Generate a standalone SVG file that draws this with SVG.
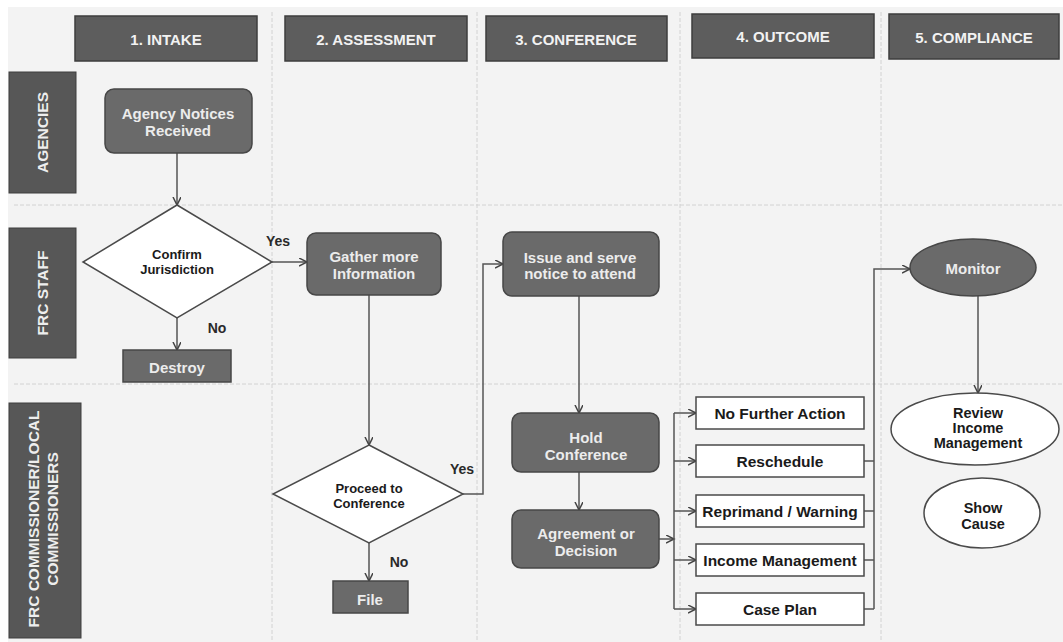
<svg xmlns="http://www.w3.org/2000/svg" width="1063" height="642" viewBox="0 0 1063 642">
<style>
text{font-family:"Liberation Sans",Arial,sans-serif;font-weight:bold;text-anchor:middle;dominant-baseline:central}
.hdr{fill:#5d5d5d;stroke:#3e3e3e;stroke-width:1.5}
.hdrt{fill:#f2f2f2;font-size:15px}
.lane{fill:#575757;stroke:#3e3e3e;stroke-width:1}
.lanet{fill:#eeeeee;font-size:15.5px}
.gnode{fill:#6a6a6a;stroke:#474747;stroke-width:1.5}
.gt{fill:#ececec;font-size:15px}
.wnode{fill:#ffffff;stroke:#4a4a4a;stroke-width:1.5}
.wt{fill:#1a1a1a;font-size:15.5px}
.dt{fill:#1a1a1a;font-size:13px}
.et{fill:#1a1a1a;font-size:14.5px}
.lbl{fill:#2a2a2a;font-size:14px}
.sep{stroke:#d2d2d2;stroke-width:1;stroke-dasharray:4 2;fill:none}
.con{fill:none;stroke:#555555;stroke-width:1.5}
.arr{marker-end:url(#ah)}
</style>
<defs>
<marker id="ah" markerWidth="10" markerHeight="10" refX="8" refY="4" orient="auto" markerUnits="userSpaceOnUse">
<path d="M0,0 L8,4 L0,8" fill="none" stroke="#444444" stroke-width="1.5"/>
</marker>
</defs>
<rect x="0" y="0" width="1063" height="642" fill="#ffffff"/>
<rect x="8" y="7" width="1055" height="635" fill="#f3f3f3"/>
<g id="separators">
<path class="sep" d="M272,12 V642 M477,12 V642 M680,12 V642 M881,12 V642"/>
<path class="sep" d="M14,205 H1063 M14,384 H1063"/>
</g>
<g id="header-intake"><rect class="hdr" x="75" y="16" width="182" height="45"/><text class="hdrt" x="166" y="39">1. INTAKE</text></g>
<g id="header-assessment"><rect class="hdr" x="285" y="16" width="182" height="45"/><text class="hdrt" x="376" y="39">2. ASSESSMENT</text></g>
<g id="header-conference"><rect class="hdr" x="486" y="16" width="181" height="45"/><text class="hdrt" x="576" y="39">3. CONFERENCE</text></g>
<g id="header-outcome"><rect class="hdr" x="692" y="14" width="182" height="44"/><text class="hdrt" x="783" y="36">4. OUTCOME</text></g>
<g id="header-compliance"><rect class="hdr" x="889" y="14" width="170" height="45"/><text class="hdrt" x="974" y="37">5. COMPLIANCE</text></g>
<g id="lane-agencies"><rect class="lane" x="9" y="72" width="67" height="121"/><text class="lanet" transform="translate(42.5,132.5) rotate(-90)">AGENCIES</text></g>
<g id="lane-frc-staff"><rect class="lane" x="9" y="228" width="67" height="130"/><text class="lanet" transform="translate(42.5,293) rotate(-90)">FRC STAFF</text></g>
<g id="lane-commissioners"><rect class="lane" x="9" y="403" width="72" height="235"/><text class="lanet" transform="translate(33,519) rotate(-90)">FRC COMMISSIONER/LOCAL</text><text class="lanet" transform="translate(52,519) rotate(-90)">COMMISSIONERS</text></g>
<g id="connectors">
<path class="con arr" d="M177,153 V205"/>
<path class="con arr" d="M272,262 H307"/>
<path class="con arr" d="M177,318 V350"/>
<path class="con arr" d="M369,295 V445"/>
<path class="con arr" d="M463,494 H483 V264 H503"/>
<path class="con arr" d="M369,543 V581"/>
<path class="con arr" d="M579,296 V413"/>
<path class="con arr" d="M579,472 V510"/>
<path class="con arr" d="M659,539 H674"/>
<path class="con" d="M674,413 V609"/>
<path class="con arr" d="M674,413 H696"/>
<path class="con arr" d="M674,461 H696"/>
<path class="con arr" d="M674,511 H696"/>
<path class="con arr" d="M674,560 H696"/>
<path class="con arr" d="M674,609 H696"/>
<path class="con" d="M864,461 H874 M864,511 H874 M864,560 H874 M864,609 H874"/>
<path class="con arr" d="M874,609 V269 H910"/>
<path class="con arr" d="M978,296 V393"/>
</g>
<g id="label-yes-1"><text class="lbl" x="278" y="241">Yes</text></g>
<g id="label-no-1"><text class="lbl" x="217" y="328">No</text></g>
<g id="label-yes-2"><text class="lbl" x="462" y="469">Yes</text></g>
<g id="label-no-2"><text class="lbl" x="399" y="562">No</text></g>
<g id="agency-notices"><rect class="gnode" x="105" y="89" width="147" height="64" rx="9"/><text class="gt" x="178" y="113">Agency Notices</text><text class="gt" x="178" y="130">Received</text></g>
<g id="confirm-jurisdiction"><polygon class="wnode" points="177,205 272,262 177,318 83,262"/><text class="dt" x="177" y="254">Confirm</text><text class="dt" x="177" y="269">Jurisdiction</text></g>
<g id="destroy"><rect class="gnode" x="123" y="350" width="108" height="32"/><text class="gt" x="177" y="367">Destroy</text></g>
<g id="gather-info"><rect class="gnode" x="307" y="233" width="134" height="62" rx="9"/><text class="gt" x="374" y="256">Gather more</text><text class="gt" x="374" y="273">Information</text></g>
<g id="proceed-conference"><polygon class="wnode" points="369,445 463,494 369,543 273,494"/><text class="dt" x="369" y="488">Proceed to</text><text class="dt" x="369" y="503">Conference</text></g>
<g id="file"><rect class="gnode" x="333" y="581" width="75" height="32"/><text class="gt" x="370" y="599">File</text></g>
<g id="issue-notice"><rect class="gnode" x="503" y="232" width="156" height="64" rx="9"/><text class="gt" x="580" y="257">Issue and serve</text><text class="gt" x="580" y="273">notice to attend</text></g>
<g id="hold-conference"><rect class="gnode" x="512" y="413" width="147" height="59" rx="9"/><text class="gt" x="586" y="437">Hold</text><text class="gt" x="586" y="454">Conference</text></g>
<g id="agreement-decision"><rect class="gnode" x="512" y="510" width="147" height="58" rx="9"/><text class="gt" x="586" y="533">Agreement or</text><text class="gt" x="586" y="550">Decision</text></g>
<g id="no-further-action"><rect class="wnode" x="696" y="397" width="168" height="32"/><text class="wt" x="780" y="413">No Further Action</text></g>
<g id="reschedule"><rect class="wnode" x="696" y="445" width="168" height="32"/><text class="wt" x="780" y="461">Reschedule</text></g>
<g id="reprimand-warning"><rect class="wnode" x="696" y="495" width="168" height="32"/><text class="wt" x="780" y="511">Reprimand / Warning</text></g>
<g id="income-management"><rect class="wnode" x="696" y="544" width="168" height="32"/><text class="wt" x="780" y="560">Income Management</text></g>
<g id="case-plan"><rect class="wnode" x="696" y="593" width="168" height="32"/><text class="wt" x="780" y="609">Case Plan</text></g>
<g id="monitor"><ellipse class="gnode" cx="973" cy="267.5" rx="63" ry="28.5"/><text class="gt" x="973" y="268">Monitor</text></g>
<g id="review-income"><ellipse class="wnode" cx="975" cy="429" rx="84" ry="36"/><text class="et" x="978" y="413">Review</text><text class="et" x="978" y="428">Income</text><text class="et" x="978" y="443">Management</text></g>
<g id="show-cause"><ellipse class="wnode" cx="982" cy="513" rx="58" ry="35"/><text class="et" x="983" y="508">Show</text><text class="et" x="983" y="524">Cause</text></g>
</svg>
